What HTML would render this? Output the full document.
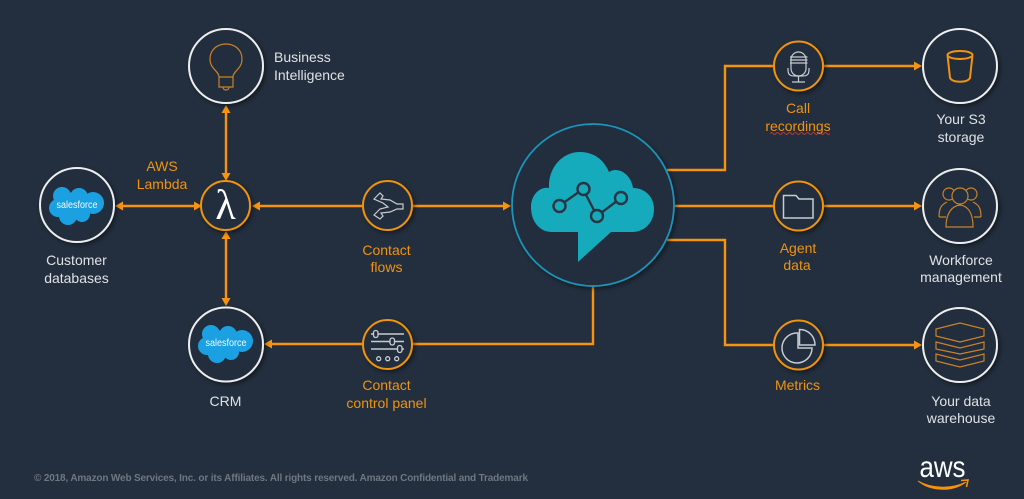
<!DOCTYPE html>
<html><head><meta charset="utf-8"><style>
html,body{margin:0;padding:0;background:#232f3e;width:1024px;height:499px;overflow:hidden}
svg{display:block;filter:blur(.35px)}
text{font-family:"Liberation Sans",sans-serif;font-size:14px;text-anchor:middle}
.w{fill:#dfe2e5}.o{fill:#f0930f}
.ring{fill:#232f3e;stroke:#eceeef;stroke-width:2;filter:url(#s)}
.oring{fill:#232f3e;stroke:#f0930f;stroke-width:2;filter:url(#s)}
.ln{fill:none;stroke:#f7930e;stroke-width:2.4}
.ah{fill:#f7930e}
.ic{fill:none;stroke:#c9812a;stroke-width:1.2}
.ig{fill:none;stroke:#c8ccd1;stroke-width:1.2}
</style></head><body>
<svg width="1024" height="499" viewBox="0 0 1024 499" xmlns="http://www.w3.org/2000/svg">
<defs>
<filter id="s" x="-30%" y="-30%" width="170%" height="170%"><feDropShadow dx="2" dy="2" stdDeviation="2" flood-color="#000" flood-opacity=".45"/></filter>
<g id="sf"><g fill="#1ba0e2"><circle cx="-15" cy="-9" r="9"/><circle cx="2" cy="-8" r="9"/><circle cx="16" cy="-2" r="11"/><circle cx="-19" cy="3" r="9"/><circle cx="-9" cy="11" r="9"/><circle cx="5" cy="9" r="8"/><circle cx="0" cy="0" r="14"/></g><text y="3" x="0" style="font-size:10px" fill="#f2fafe" textLength="41" lengthAdjust="spacingAndGlyphs">salesforce</text></g>
</defs>
<!-- lines -->
<path class="ln" d="M120 206H197M226 110V176M226 236V300M258 206H363M413 206H506M412 344H268M593 286V344H412M667 170H725V66H773M823 66H917M675 206H773M823 206H917M667 240H725V345H773M823 345H917"/>
<!-- arrowheads -->
<path class="ah" d="M115 206l8-4.500v9zM202 206l-8-4.500v9zM226 105l-4.500 8h9zM226 181l-4.500-8h9zM226 231l-4.500 8h9zM226 306l-4.500-8h9zM252 206l8-4.500v9zM511 206l-8-4.500v9zM264 344l8-4.500v9zM922 66l-8-4.500v9zM922 206l-8-4.500v9zM922 345l-8-4.500v9z"/>
<!-- white rings -->
<circle class="ring" cx="226" cy="66" r="37"/>
<circle class="ring" cx="77" cy="205" r="37"/>
<circle class="ring" cx="226" cy="344.500" r="37"/>
<circle class="ring" cx="960" cy="66" r="37"/>
<circle class="ring" cx="960" cy="206" r="37"/>
<circle class="ring" cx="960" cy="345" r="37"/>
<!-- orange rings -->
<circle class="oring" cx="225.500" cy="205.500" r="24.500"/>
<circle class="oring" cx="387.500" cy="205.500" r="24.500"/>
<circle class="oring" cx="387.500" cy="344.500" r="24.500"/>
<circle class="oring" cx="798.500" cy="66" r="24.500"/>
<circle class="oring" cx="798.500" cy="206" r="24.500"/>
<circle class="oring" cx="798.500" cy="345" r="24.500"/>
<!-- big circle -->
<circle cx="593" cy="205" r="81" fill="#232f3e" stroke="#1a93b8" stroke-width="1.800" filter="url(#s)"/>
<path fill="#15abbd" d="M578 232H552C540 232 531 222 531 207C531 194 541 186 549 188C548 168 562 152 580 152C594 152 604 160 609 172C618 166 631 174 633 188C645 188 654 197 654 209C654 222 645 232 632 232H611L578 262Z"/>
<path d="M559 206L583 189L597 216L621 198" fill="none" stroke="#2a3542" stroke-width="2.400"/>
<g fill="#15abbd" stroke="#2a3542" stroke-width="2.400"><circle cx="559.500" cy="206" r="6"/><circle cx="583.500" cy="189" r="6"/><circle cx="597" cy="216" r="6"/><circle cx="621" cy="198" r="6"/></g>
<!-- bulb -->
<path class="ic" d="M219 77H233C233 71 242 69 242 59C242 50 235 44 226 44C217 44 210 50 210 59C210 69 219 71 219 77ZM219 77V87H233V77M223 87C223 91 229 91 229 87"/>
<!-- salesforce -->
<use href="#sf" x="77" y="205"/>
<use href="#sf" x="226" y="343"/>
<!-- lambda -->
<text x="225.500" y="219" style="font-family:'Liberation Serif',serif;font-size:42px" fill="#fff">λ</text>
<!-- flow icon -->
<path class="ig" d="M374 199L380 193L383 196L381 199L390 200L397 204H403V209H397L390 212L381 213L383 216L380 219L374 215L380 209L388 207L383 203Z"/>
<!-- panel icon -->
<g stroke="#c8ccd1" stroke-width="1.300" fill="none">
<path d="M371 334H404M371 341.500H404M371 349H404" stroke-width="1.600"/>
<rect x="373.500" y="330.500" width="4.500" height="7" rx="2.200" fill="#232f3e"/><rect x="390" y="338" width="4.500" height="7" rx="2.200" fill="#232f3e"/><rect x="397.500" y="345.500" width="4.500" height="7" rx="2.200" fill="#232f3e"/>
<circle cx="378.700" cy="358.700" r="2"/><circle cx="387.700" cy="358.700" r="2"/><circle cx="396.700" cy="358.700" r="2"/></g>
<!-- mic -->
<g class="ig"><rect x="791" y="52" width="15" height="24" rx="7.500"/><path d="M788 68V70C788 77 793 76 798.500 76C804 76 809 77 809 70V68M798.500 76V82M792 82H805"/><path d="M790 57H807.500M790 60H807.500M790 63H807.500"/></g>
<!-- folder -->
<path class="ig" style="stroke-width:1.500" d="M783.500 218V195.500H796L799 199H813V218Z"/>
<!-- pie -->
<g class="ig" style="stroke-width:1.500"><path d="M798 333A15 15 0 1 0 812 348H798Z"/><path d="M799.500 329.500V345H815C815 336 808 329.500 799.500 329.500Z"/></g>
<!-- bucket -->
<g fill="none" stroke="#f0930f" stroke-width="2"><ellipse cx="960" cy="55" rx="12.500" ry="4"/><path d="M947.500 55L950 78C953 83 967 83 970 78L972.500 55"/></g>
<!-- people -->
<g class="ic"><circle cx="949" cy="194" r="6"/><circle cx="971" cy="194" r="6"/><path d="M939 217C939 206 943 204 947 202M981 217C981 206 977 204 973 202M939 217H946M981 217H974"/><circle cx="960" cy="196" r="8" fill="#232f3e"/><path d="M946 227C946 213 952 206 960 205C968 206 973 213 973 227Z" fill="#232f3e"/></g>
<!-- stack -->
<g class="ic"><path d="M936 329L960 323L984 329V336L960 342L936 336Z"/><path d="M936 342L960 348L984 342V349L960 354L936 349Z"/><path d="M936 354L960 360L984 354V361L960 367L936 361Z"/></g>
<!-- labels -->
<text x="274" y="62" class="w" style="text-anchor:start">Business</text>
<text x="274" y="80" class="w" style="text-anchor:start">Intelligence</text>
<text x="162" y="171" class="o">AWS</text><text x="162" y="189" class="o">Lambda</text>
<text x="76.500" y="265" class="w">Customer</text><text x="76.500" y="283" class="w">databases</text>
<text x="225.500" y="406" class="w">CRM</text>
<text x="386.500" y="255" class="o">Contact</text><text x="386.500" y="272" class="o">flows</text>
<text x="386.500" y="390" class="o">Contact</text><text x="386.500" y="408" class="o">control panel</text>
<text x="798" y="113" class="o">Call</text><text x="798" y="131" class="o">recordings</text>
<path d="M770 133.500q1.500-2 3 0t3 0 3 0 3 0 3 0 3 0 3 0 3 0 3 0 3 0 3 0 3 0 3 0 3 0 3 0 3 0 3 0 3 0 3 0 3 0" fill="none" stroke="#c8423c" stroke-width=".8"/>
<text x="798" y="253" class="o">Agent</text><text x="797" y="270" class="o">data</text>
<text x="797.500" y="390" class="o">Metrics</text>
<text x="961" y="124" class="w">Your S3</text><text x="961" y="142" class="w">storage</text>
<text x="961" y="265" class="w">Workforce</text><text x="961" y="282" class="w">management</text>
<text x="961" y="406" class="w">Your data</text><text x="961" y="423" class="w">warehouse</text>
<text x="34" y="481" style="font-size:10px;font-weight:bold;text-anchor:start" fill="#6f7780" textLength="494">© 2018, Amazon Web Services, Inc. or its Affiliates. All rights reserved. Amazon Confidential and Trademark</text>
<!-- aws -->
<text x="942.500" y="477" style="font-size:30px" fill="#fff" textLength="46" lengthAdjust="spacingAndGlyphs">aws</text>
<path d="M918 481C932 489 952 489 966 482C953 492 931 492 918 481Z" fill="#f7930e" stroke="#f7930e" stroke-width=".8"/>
<path d="M961 480.500L968 480L966.500 487" fill="none" stroke="#f7930e" stroke-width="1.600"/>
</svg>
</body></html>
